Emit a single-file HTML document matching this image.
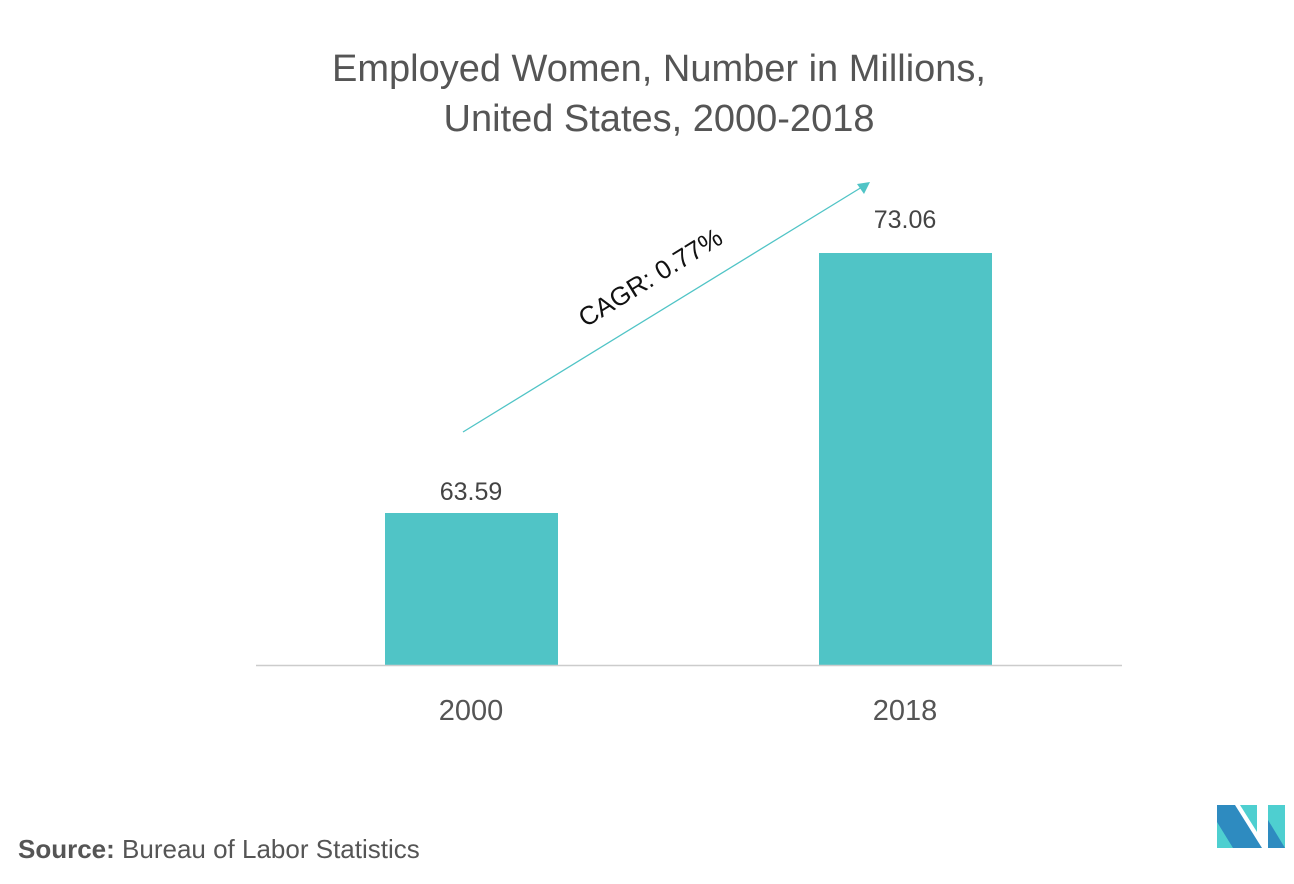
<!DOCTYPE html>
<html><head><meta charset="utf-8"><style>
html,body{margin:0;padding:0;background:#fff;}
body{width:1294px;height:884px;position:relative;overflow:hidden;font-family:"Liberation Sans",sans-serif;}
.t{position:absolute;color:#555;white-space:nowrap;}
</style></head><body>
<div class="t" style="left:0;width:1318px;text-align:center;top:44px;font-size:38px;line-height:50px;color:#555;">Employed Women, Number in Millions,<br>United States, 2000-2018</div>
<svg width="1294" height="884" style="position:absolute;left:0;top:0">
<rect x="385" y="513" width="173" height="152" fill="#50c4c6"/>
<rect x="819" y="253" width="173" height="412" fill="#50c4c6"/>
<line x1="256" y1="665.5" x2="1122" y2="665.5" stroke="#ccc" stroke-width="1.5"/>
<line x1="463" y1="432" x2="862" y2="187" stroke="#50c4c6" stroke-width="1.3"/>
<polygon points="870,182 857,184 864,194" fill="#50c4c6"/>
<text x="655" y="285" transform="rotate(-31.6 655 285)" text-anchor="middle" font-size="26" fill="#111" font-family="Liberation Sans, sans-serif">CAGR: 0.77%</text>
<text x="471" y="500" text-anchor="middle" font-size="25" fill="#444" font-family="Liberation Sans, sans-serif">63.59</text>
<text x="905" y="228" text-anchor="middle" font-size="25" fill="#444" font-family="Liberation Sans, sans-serif">73.06</text>
<text x="471" y="720" text-anchor="middle" font-size="29" fill="#555" font-family="Liberation Sans, sans-serif">2000</text>
<text x="905" y="720" text-anchor="middle" font-size="29" fill="#555" font-family="Liberation Sans, sans-serif">2018</text>
<text x="18" y="858" font-size="26" fill="#555" font-family="Liberation Sans, sans-serif"><tspan font-weight="bold">Source:</tspan> Bureau of Labor Statistics</text>
<polygon points="1217,805 1235,805 1262,848 1217,848" fill="#2e8bc0"/>
<polygon points="1217,822 1233,848 1217,848" fill="#4ecfd0"/>
<polygon points="1240,805 1257,805 1257,832" fill="#4ecfd0"/>
<polygon points="1268,805 1285,805 1285,848 1268,848" fill="#4ecfd0"/>
<polygon points="1268,820 1285,848 1268,848" fill="#2e8bc0"/>
</svg>
</body></html>
